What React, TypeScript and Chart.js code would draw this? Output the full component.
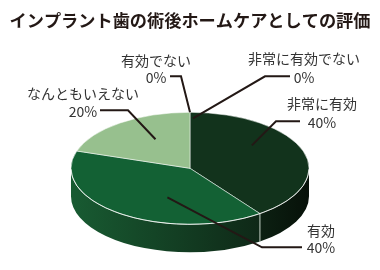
import React, { useEffect, useRef } from "react";
import { Chart, registerables } from "chart.js";

Chart.register(...registerables);

// ---- data ----
const chartTitle = "インプラント歯の術後ホームケアとしての評価";
const categories = ["非常に有効でない", "非常に有効", "有効", "なんともいえない", "有効でない"];
const values = [0, 40, 40, 20, 0];
const percentLabels = ["0%", "40%", "40%", "20%", "0%"];

// ---- styles ----
const topColors = ["#0e2a17", "#12331c", "#136134", "#97c08e", "#97c08e"];
const sideColors = [
  ["#0c2012", "#071109"],
  ["#0c2012", "#071109"],
  ["#185b32", "#0f2817"],
  ["#5f8a58", "#4d7348"],
  ["#5f8a58", "#4d7348"],
];
const FONT = "'Noto Sans CJK JP', 'Noto Sans', sans-serif";
const RX = 119;
const TILT = 56 / 119;
const DEPTH = 28;

// label layout: text centre offsets from pie centre, leader elbow points, anchor in normalized ellipse coords
const labelLayout = [
  { tx: 114, ty1: -110, ty2: -91, line: [[100, -92], [75, -92]], anchor: [0.025, -0.89] },
  { tx: 132, ty1: -65, ty2: -46, line: [[110, -47], [86, -47]], anchor: [0.52, -0.41] },
  { tx: 131, ty1: 62, ty2: 79, line: [[112, 79], [72, 79]], anchor: [-0.19, 0.52] },
  { tx: -107, ty1: -75, ty2: -57, line: [[-90, -58], [-62, -58]], anchor: [-0.29, -0.52] },
  { tx: -34, ty1: -108, ty2: -91, line: [[-20, -92], [-9, -92]], anchor: [0, -1] },
];

const pie3d = {
  id: "pie3d",
  beforeDatasetsDraw(chart: any) {
    const arcs = chart.getDatasetMeta(0).data as any[];
    if (!arcs.length) return;
    const cx = arcs[0].x, cy = arcs[0].y, R = arcs[0].outerRadius;
    const rx = RX, ry = RX * TILT;
    const ctx = chart.ctx as CanvasRenderingContext2D;
    ctx.save();
    arcs.forEach((arc, i) => {
      const s = Math.max(arc.startAngle, 0);
      const e = Math.min(arc.endAngle, Math.PI);
      if (e <= s) return;
      const xl = cx + rx * Math.cos(e), xr = cx + rx * Math.cos(s);
      const g = ctx.createLinearGradient(Math.min(xl, xr), 0, Math.max(xl, xr), 0);
      g.addColorStop(0, sideColors[i][0]);
      g.addColorStop(1, sideColors[i][1]);
      ctx.beginPath();
      ctx.ellipse(cx, cy, rx, ry, 0, s, e);
      ctx.lineTo(cx + rx * Math.cos(e), cy + ry * Math.sin(e) + DEPTH);
      ctx.ellipse(cx, cy + DEPTH, rx, ry, 0, e, s, true);
      ctx.closePath();
      ctx.fillStyle = g;
      ctx.fill();
    });
    // side boundaries
    ctx.strokeStyle = "rgba(225,235,225,0.85)";
    ctx.lineWidth = 1;
    arcs.forEach((arc) => {
      const a = arc.startAngle;
      if (a > 0.01 && a < Math.PI - 0.01 && arc.circumference > 0) {
        const x = cx + rx * Math.cos(a), y = cy + ry * Math.sin(a);
        ctx.beginPath();
        ctx.moveTo(x, y);
        ctx.lineTo(x, y + DEPTH);
        ctx.stroke();
      }
    });
    ctx.restore();
    ctx.save();
    ctx.translate(cx, cy);
    ctx.scale(rx / R, ry / R);
    ctx.translate(-cx, -cy);
  },
  afterDatasetsDraw(chart: any) {
    const ctx = chart.ctx as CanvasRenderingContext2D;
    ctx.restore();
    const arcs = chart.getDatasetMeta(0).data as any[];
    if (!arcs.length) return;
    const cx = arcs[0].x, cy = arcs[0].y;
    const rx = RX, ry = RX * TILT;
    ctx.save();
    // rim highlight
    ctx.strokeStyle = "rgba(255,255,255,0.8)";
    ctx.lineWidth = 0.9;
    ctx.beginPath();
    ctx.ellipse(cx, cy, rx, ry, 0, 0.02, Math.PI - 0.02);
    ctx.stroke();
    // leader lines
    ctx.strokeStyle = "#231815";
    ctx.lineWidth = 2;
    ctx.lineJoin = "miter";
    labelLayout.forEach((L) => {
      ctx.beginPath();
      ctx.moveTo(cx + L.line[0][0], cy + L.line[0][1]);
      ctx.lineTo(cx + L.line[1][0], cy + L.line[1][1]);
      ctx.lineTo(cx + L.anchor[0] * rx, cy + L.anchor[1] * ry);
      ctx.stroke();
    });
    // labels
    ctx.fillStyle = "#333333";
    ctx.font = `400 14px ${FONT}`;
    ctx.textAlign = "center";
    ctx.textBaseline = "middle";
    labelLayout.forEach((L, i) => {
      ctx.fillText(categories[i], cx + L.tx, cy + L.ty1);
      ctx.fillText(percentLabels[i], cx + L.tx, cy + L.ty2);
    });
    ctx.restore();
  },
};

export default function App() {
  const ref = useRef<HTMLCanvasElement | null>(null);
  useEffect(() => {
    if (!ref.current) return;
    const chart = new Chart(ref.current, {
      type: "pie",
      data: {
        labels: categories,
        datasets: [
          {
            data: values,
            backgroundColor: topColors,
            borderColor: "rgba(255,255,255,0.75)",
            borderWidth: 0.8,
          } as any,
        ],
      },
      options: {
        responsive: false,
        devicePixelRatio: 1,
        animation: false,
        events: [],
        layout: { padding: 0 },
        plugins: {
          legend: { display: false },
          tooltip: { enabled: false },
          title: {
            display: true,
            text: chartTitle,
            color: "#231815",
            font: { family: FONT, size: 17.2, weight: "bold" },
            padding: { top: 10, bottom: 36 },
          },
        },
      } as any,
      plugins: [pie3d],
    });
    return () => chart.destroy();
  }, []);
  return (
    <div style={{ position: "fixed", left: 0, top: 0, width: 380, height: 270, background: "#fff" }}>
      <canvas ref={ref} width={380} height={270} style={{ display: "block", width: 380, height: 270 }} />
    </div>
  );
}
